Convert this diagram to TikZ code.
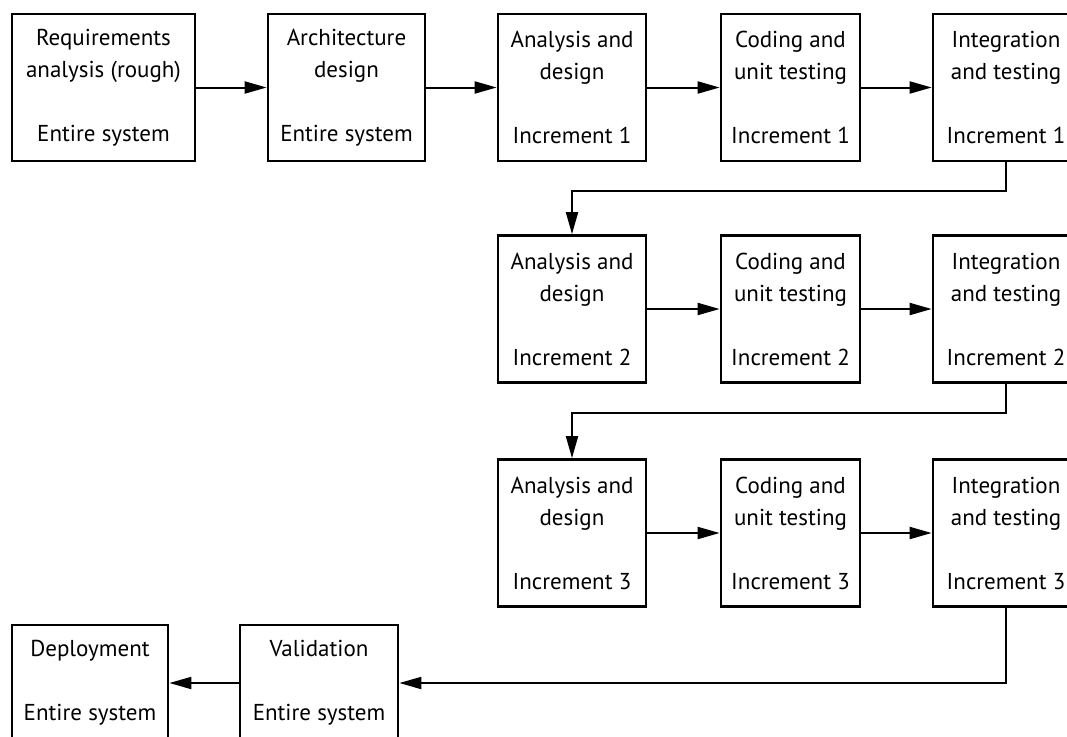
\documentclass[tikz,border=0pt]{standalone}
\usepackage{fontspec}
\setmainfont{PT Sans}
\usetikzlibrary{arrows.meta}

\tikzset{
	phase/.style = {draw, line width = 2.7pt, align = center, inner sep = 0pt,
		minimum height = 147pt, font = \fontsize{23}{32}\selectfont},
	lastphase/.style = {phase, minimum height = 116pt},
	flow/.style = {line width = 2pt, -{Triangle[length = 22pt, width = 12pt]}}
}

\begin{document}
\begin{tikzpicture}[x = 1pt, y = -1pt]
	\useasboundingbox (0,0) rectangle (1067,736);
	\clip (0,0) rectangle (1067,736);

	% first row: whole system, then increment 1
	\node[phase, minimum width = 183pt] (req) at (103.5,87.5) {Requirements\\analysis (rough)\\[32pt]Entire system};
	\node[phase, minimum width = 157pt] (arch) at (346.5,87.5) {Architecture\\design\\[32pt]Entire system};
	\node[phase, minimum width = 148pt] (ad1) at (572,87.5) {Analysis and\\design\\[32pt]Increment 1};
	\node[phase, minimum width = 139pt] (cu1) at (790.5,87.5) {Coding and\\unit testing\\[32pt]Increment 1};
	\node[phase, minimum width = 146pt] (it1) at (1006,87.5) {Integration\\and testing\\[32pt]Increment 1};

	% increment 2
	\node[phase, minimum width = 148pt] (ad2) at (572,309) {Analysis and\\design\\[32pt]Increment 2};
	\node[phase, minimum width = 139pt] (cu2) at (790.5,309) {Coding and\\unit testing\\[32pt]Increment 2};
	\node[phase, minimum width = 146pt] (it2) at (1006,309) {Integration\\and testing\\[32pt]Increment 2};

	% increment 3
	\node[phase, minimum width = 148pt] (ad3) at (572,533) {Analysis and\\design\\[32pt]Increment 3};
	\node[phase, minimum width = 139pt] (cu3) at (790.5,533) {Coding and\\unit testing\\[32pt]Increment 3};
	\node[phase, minimum width = 146pt] (it3) at (1006,533) {Integration\\and testing\\[32pt]Increment 3};

	% last row
	\node[lastphase, minimum width = 158pt] (val) at (319,683) {Validation\\[32pt]Entire system};
	\node[lastphase, minimum width = 156pt] (dep) at (90,683) {Deployment\\[32pt]Entire system};

	\draw[flow] (req) -- (arch);
	\draw[flow] (arch) -- (ad1);
	\draw[flow] (ad1) -- (cu1);
	\draw[flow] (cu1) -- (it1);
	\draw[flow] (it1.south) -- ++(0,29) -| (ad2.north);
	\draw[flow] (ad2) -- (cu2);
	\draw[flow] (cu2) -- (it2);
	\draw[flow] (it2.south) -- ++(0,29) -| (ad3.north);
	\draw[flow] (ad3) -- (cu3);
	\draw[flow] (cu3) -- (it3);
	\draw[flow] (it3.south) |- (val.east);
	\draw[flow] (val) -- (dep);
\end{tikzpicture}
\end{document}
